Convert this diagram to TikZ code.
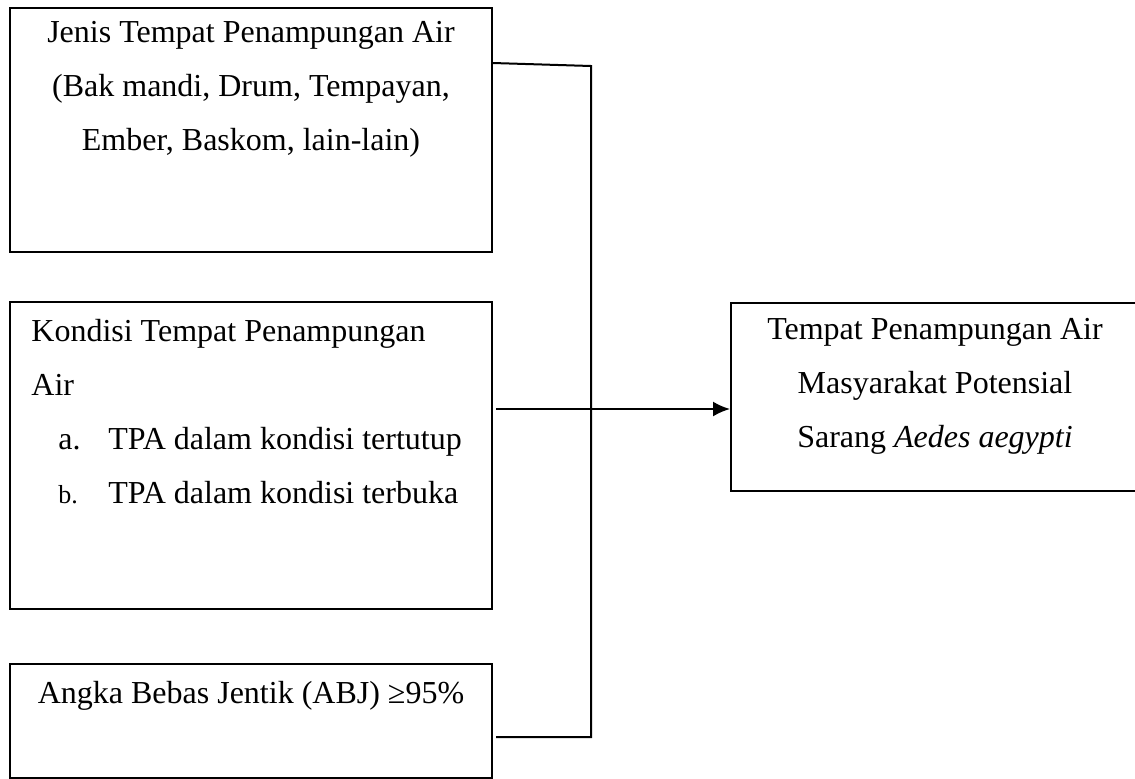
\documentclass[tikz,border=0pt]{standalone}
\usepackage{fontspec}
\setmainfont{Liberation Serif}
\usetikzlibrary{positioning,arrows.meta}

\begin{document}
\begin{tikzpicture}[x=0.5pt, y=-0.5pt,
    every node/.style={font=\fontsize{16pt}{27pt}\selectfont},
    box/.style={draw, line width=1pt, anchor=north west, minimum width=241pt},
    txt/.style={inner sep=0pt, align=center},
    link/.style={line width=1pt},
    arr/.style={line width=1pt, -{Latex[length=8.5pt, width=7.5pt]}}
 ]
\useasboundingbox (0,0) rectangle (1135,778);

\node[box, minimum height=122pt] (jenis) at (9,7) {};
\node[box, minimum height=153.5pt] (kondisi) at (9,301) {};
\node[box, minimum height=57pt] (angka) at (9,663) {};
\node[box, minimum width=204pt, minimum height=94pt] (tpa) at (730,302) {};

\node[txt, below=7pt of jenis.north] (jenistext)
    {Jenis Tempat Penampungan Air\\(Bak mandi, Drum, Tempayan,\\Ember, Baskom, lain-lain)};
\node[txt, align=left, below right=9pt and 11pt of kondisi.north west] (kondisitext)
    {Kondisi Tempat Penampungan\\Air\\
     \hspace*{13.5pt}\makebox[25pt][l]{a.}TPA dalam kondisi tertutup\\
     \hspace*{13.5pt}\makebox[25pt][l]{\fontsize{13pt}{27pt}\selectfont b.}TPA dalam kondisi terbuka};
\node[txt, below=9pt of angka.north] (angkatext) {Angka Bebas Jentik (ABJ) ≥95\%};
\node[txt, below=8pt of tpa.north] (tpatext)
    {Tempat Penampungan Air\\Masyarakat Potensial\\Sarang \textit{Aedes aegypti}};

% garis penghubung
\coordinate (hubtop) at (591,66);
\coordinate (hubmid) at (591,409);
\coordinate (hubbot) at (591,737);

\draw[link] ([yshift=-28pt]jenis.north east) -- (hubtop) -- (hubbot) -- ([xshift=1.5pt]angka.east |- hubbot);
\draw[arr] ([xshift=1.5pt]kondisi.east |- hubmid) -- (tpa.west |- hubmid);
\end{tikzpicture}
\end{document}
